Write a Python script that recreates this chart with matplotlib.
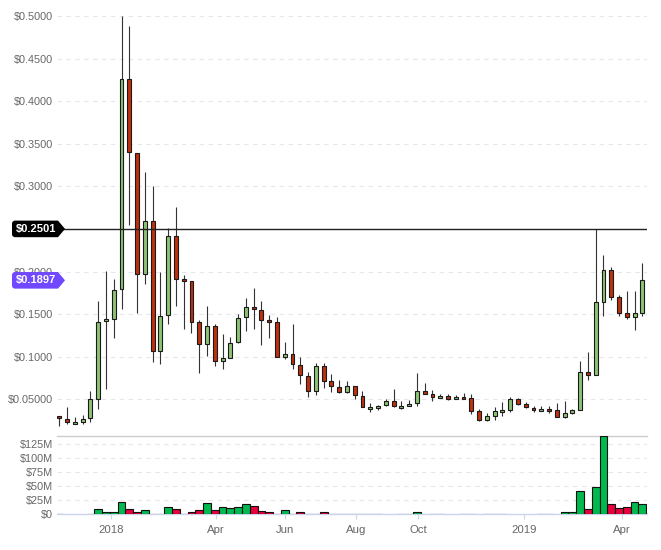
import matplotlib
matplotlib.use("Agg")

import numpy as np
import matplotlib.pyplot as plt
from matplotlib.patches import Polygon
from matplotlib.transforms import IdentityTransform

plt.rcParams['font.family'] = ['Liberation Sans', 'DejaVu Sans']

# weekly candles (USD)
opens = [0.0301, 0.0265, 0.0207, 0.0230, 0.0277, 0.0500, 0.1416, 0.1440, 0.1790, 0.4257,
         0.3390, 0.1970, 0.2590, 0.1063, 0.1486, 0.2414, 0.1910, 0.1885, 0.1404, 0.1146,
         0.1357, 0.0946, 0.0980, 0.1169, 0.1463, 0.1580, 0.1545, 0.1428, 0.1404, 0.0993,
         0.1028, 0.0899, 0.0770, 0.0594, 0.0888, 0.0711, 0.0641, 0.0589, 0.0653, 0.0535,
         0.0383, 0.0394, 0.0430, 0.0477, 0.0394, 0.0418, 0.0453, 0.0594, 0.0559, 0.0512,
         0.0535, 0.0500, 0.0524, 0.0512, 0.0359, 0.0254, 0.0301, 0.0348, 0.0371, 0.0500,
         0.0441, 0.0394, 0.0359, 0.0383, 0.0371, 0.0289, 0.0336, 0.0371, 0.0817, 0.0782,
         0.1639, 0.2015, 0.1698, 0.1510, 0.1463, 0.1510]
highs = [0.0305, 0.0410, 0.0289, 0.0316, 0.0598, 0.1654, 0.2006, 0.1910, 0.5000, 0.4880,
         0.3390, 0.3170, 0.3000, 0.2000, 0.2508, 0.2758, 0.1956, 0.1885, 0.1431, 0.1595,
         0.1380, 0.1267, 0.1228, 0.1500, 0.1690, 0.1807, 0.1654, 0.1490, 0.1463, 0.1173,
         0.1384, 0.0993, 0.0817, 0.0923, 0.0923, 0.0794, 0.0727, 0.0711, 0.0653, 0.0594,
         0.0453, 0.0430, 0.0500, 0.0618, 0.0477, 0.0488, 0.0809, 0.0691, 0.0606, 0.0559,
         0.0559, 0.0547, 0.0570, 0.0559, 0.0383, 0.0336, 0.0406, 0.0465, 0.0524, 0.0510,
         0.0465, 0.0418, 0.0418, 0.0418, 0.0453, 0.0477, 0.0383, 0.0946, 0.1052, 0.2501,
         0.2190, 0.2050, 0.1721, 0.1772, 0.1772, 0.2097]
lows = [0.0190, 0.0214, 0.0205, 0.0207, 0.0237, 0.0390, 0.0625, 0.1223, 0.1560, 0.2546,
        0.1517, 0.1850, 0.0940, 0.0918, 0.1384, 0.1595, 0.1322, 0.1280, 0.0812, 0.1012,
        0.0895, 0.0852, 0.0980, 0.1158, 0.1298, 0.1322, 0.1134, 0.1216, 0.0993, 0.0970,
        0.0852, 0.0676, 0.0524, 0.0547, 0.0629, 0.0589, 0.0570, 0.0570, 0.0500, 0.0406,
        0.0348, 0.0371, 0.0418, 0.0406, 0.0383, 0.0418, 0.0418, 0.0559, 0.0477, 0.0512,
        0.0488, 0.0500, 0.0500, 0.0324, 0.0242, 0.0242, 0.0254, 0.0301, 0.0348, 0.0430,
        0.0394, 0.0348, 0.0359, 0.0336, 0.0289, 0.0277, 0.0324, 0.0371, 0.0723, 0.0782,
        0.1474, 0.1662, 0.1474, 0.1439, 0.1310, 0.1474]
closes = [0.0277, 0.0230, 0.0234, 0.0265, 0.0500, 0.1404, 0.1440, 0.1780, 0.4257, 0.3400,
          0.1970, 0.2590, 0.1063, 0.1474, 0.2414, 0.1910, 0.1885, 0.1410, 0.1146, 0.1357,
          0.0946, 0.0980, 0.1158, 0.1451, 0.1580, 0.1557, 0.1428, 0.1404, 0.0993, 0.1028,
          0.0911, 0.0782, 0.0594, 0.0888, 0.0711, 0.0653, 0.0589, 0.0653, 0.0547, 0.0406,
          0.0406, 0.0418, 0.0477, 0.0418, 0.0418, 0.0441, 0.0594, 0.0559, 0.0524, 0.0535,
          0.0500, 0.0524, 0.0500, 0.0359, 0.0254, 0.0301, 0.0359, 0.0371, 0.0500, 0.0441,
          0.0406, 0.0371, 0.0383, 0.0359, 0.0289, 0.0336, 0.0371, 0.0817, 0.0782, 0.1639,
          0.2015, 0.1698, 0.1510, 0.1463, 0.1510, 0.1897]
# weekly volume, $M
volumes = [1.0, 0, 0, 0, 0.5, 8.9, 4.8, 4.8, 21.4, 8.9,
           3.6, 7.1, 0.5, 0.5, 12.5, 8.9, 0.5, 3.6, 7.1, 19.6,
           7.1, 12.5, 10.7, 12.5, 17.9, 14.3, 5.4, 3.6, 0.5, 7.1,
           0.5, 3.6, 0.5, 0.5, 3.6, 0.5, 0.5, 0.5, 0.5, 0.5,
           0.5, 0.5, 0, 0, 0.5, 0.5, 4.0, 0, 0.5, 0.5,
           0, 0, 0.5, 0.5, 0, 0.5, 0.5, 0.5, 0, 0,
           0, 0, 0.5, 0.5, 0, 4.0, 4.0, 41.0, 8.9, 48.2,
           139.8, 17.9, 10.7, 12.5, 21.4, 17.9]

tick_pos = [6.63, 20.16, 29.04, 38.14, 46.15, 59.76, 72.39]
tick_labels = ["2018", "Apr", "Jun", "Aug", "Oct", "2019", "Apr"]
price_ticks = [0.05, 0.10, 0.15, 0.20, 0.25, 0.30, 0.35, 0.40, 0.45, 0.50]
# the $0.2500 label sits under the reference-price tag, so it stays blank
price_labels = ["$0.05000", "$0.1000", "$0.1500", "$0.2000", "",
                "$0.3000", "$0.3500", "$0.4000", "$0.4500", "$0.5000"]
vol_ticks = [0, 25, 50, 75, 100, 125]
vol_labels = ["$0", "$25M", "$50M", "$75M", "$100M", "$125M"]
ref_price = 0.2501

o = np.array(opens); h = np.array(highs); l = np.array(lows); c = np.array(closes)
v = np.array(volumes)
x = np.arange(len(o))
up = c >= o

W, H = 661, 550
fig = plt.figure(figsize=(W / 100, H / 100), dpi=100)

def box(left, top, right, bottom):
    return [left / W, 1 - bottom / H, (right - left) / W, (bottom - top) / H]

ax = fig.add_axes(box(57, 16, 647, 436))
axv = fig.add_axes(box(57, 435.7, 647, 514.3))

grid_kw = dict(color="#e6e6ee", linestyle=(0, (4, 4)), linewidth=0.8)

# price candles
ax.vlines(x, l, h, color="#333333", linewidth=0.8, zorder=2)
ax.bar(x, np.abs(c - o), bottom=np.minimum(o, c), width=0.5,
       color=np.where(up, "#8cc474", "#c0300c"), edgecolor="#1a1a1a",
       linewidth=0.8, zorder=3)
ax.axhline(ref_price, color="#222222", linewidth=1.0, zorder=4)

ax.set_xlim(-0.3, 75.6)
ax.set_ylim(0.0069, 0.5001)
ax.set_yticks(price_ticks, price_labels)
ax.yaxis.grid(True, **grid_kw)
ax.set_axisbelow(True)
ax.tick_params(axis="y", length=0, pad=3, labelsize=7.8, labelcolor="#666666")
ax.tick_params(axis="x", bottom=False, labelbottom=False)
for s in ax.spines.values():
    s.set_visible(False)

# volume
m = v > 0
axv.bar(x[m], v[m], width=1.0, color=np.where(up[m], "#00b94f", "#e5003c"),
        edgecolor="#111111", linewidth=0.8, zorder=3)
axv.set_xlim(-0.3, 75.6)
axv.set_ylim(0, v.max())
axv.set_yticks(vol_ticks, vol_labels)
axv.yaxis.grid(True, **grid_kw)
axv.set_axisbelow(True)
axv.tick_params(axis="y", length=0, pad=3, labelsize=7.8, labelcolor="#666666")
axv.set_xticks(tick_pos, tick_labels)
axv.tick_params(axis="x", length=3.6, width=0.8, color="#ccd6eb", pad=4,
                labelsize=8.2, labelcolor="#666666")
for s in ["left", "right"]:
    axv.spines[s].set_visible(False)
axv.spines["top"].set_color("#cccccc")
axv.spines["bottom"].set_color("#ccd6eb")
axv.spines["top"].set_linewidth(1)
axv.spines["bottom"].set_linewidth(1)


def tag(value, color):
    yd = ax.transData.transform((0, value))[1]
    hh, r = 8.3, 3.0
    verts = [(58, yd + hh), (65, yd), (58, yd - hh)]
    for a in np.linspace(270, 180, 6):
        t = np.radians(a)
        verts.append((12 + r + r * np.cos(t), yd - hh + r + r * np.sin(t)))
    for a in np.linspace(180, 90, 6):
        t = np.radians(a)
        verts.append((12 + r + r * np.cos(t), yd + hh - r + r * np.sin(t)))
    fig.add_artist(Polygon(verts, closed=True, facecolor=color, edgecolor="none",
                           transform=IdentityTransform(), zorder=10))
    fig.text(36.5 / W, yd / H, f"${value:.4f}", color="white", fontweight="bold",
             fontsize=8, ha="center", va="center", zorder=11)


tag(ref_price, "#000000")
tag(closes[-1], "#7048ff")

plt.savefig("out.png", dpi=100)
